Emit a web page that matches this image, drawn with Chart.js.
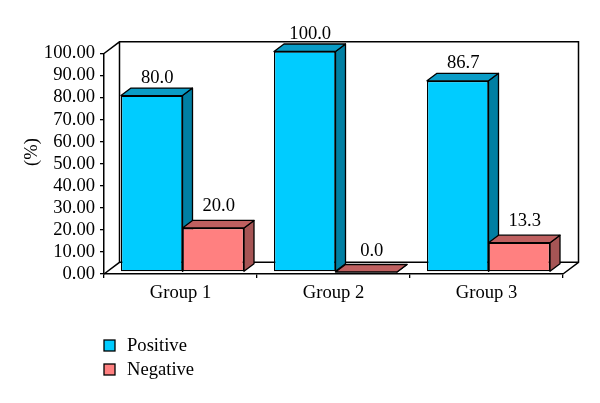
<!DOCTYPE html>
<html>
<head>
<meta charset="utf-8">
<style>body{margin:0;background:#fff}canvas{display:block}</style>
<script src="https://cdn.jsdelivr.net/npm/chart.js@4"></script>
</head>
<body>
<canvas id="c" width="600" height="403"></canvas>
<script>
const categories = ['Group 1', 'Group 2', 'Group 3'];
const positive = [80.0, 100.0, 86.7];
const negative = [20.0, 0.0, 13.3];

const FONT = '"Liberation Serif", serif';
const FONT_SIZE = 18.6;
const DX = 10, DY = 7.5;      // bar depth
const WALL_X = 15.5, WALL_Y = 11.7; // back wall offset
const SHIFT_X = 2, SHIFT_Y = -2;  // bars stand a bit inside the floor

function poly(ctx, pts, fill) {
    ctx.beginPath();
    pts.forEach((p, i) => i ? ctx.lineTo(p[0], p[1]) : ctx.moveTo(p[0], p[1]));
    ctx.closePath();
    ctx.fillStyle = fill;
    ctx.fill();
    ctx.stroke();
}

const box3d = {
    id: 'box3d',
    beforeDatasetsDraw(chart) {
        // back wall + floor
        const { ctx, chartArea: a } = chart;
        ctx.save();
        ctx.strokeStyle = '#000';
        ctx.lineWidth = 1.5;
        ctx.beginPath();
        ctx.moveTo(a.left, a.top);
        ctx.lineTo(a.left + WALL_X, a.top - WALL_Y);
        ctx.lineTo(a.right + WALL_X, a.top - WALL_Y);
        ctx.lineTo(a.right + WALL_X, a.bottom - WALL_Y);
        ctx.lineTo(a.right, a.bottom);
        ctx.moveTo(a.right + WALL_X, a.bottom - WALL_Y);
        ctx.lineTo(a.left + WALL_X, a.bottom - WALL_Y);
        ctx.lineTo(a.left, a.bottom);
        ctx.moveTo(a.left + WALL_X, a.top - WALL_Y);
        ctx.lineTo(a.left + WALL_X, a.bottom - WALL_Y);
        ctx.stroke();

        // side and top faces, positive first so negative covers it
        ctx.translate(SHIFT_X, SHIFT_Y);
        ctx.lineWidth = 1.3;
        ctx.lineJoin = 'round';
        chart.data.datasets.forEach((ds, i) => {
            chart.getDatasetMeta(i).data.forEach(bar => {
                const l = bar.x - bar.width / 2, r = bar.x + bar.width / 2;
                poly(ctx, [[r, bar.y], [r + DX, bar.y - DY], [r + DX, bar.base - DY], [r, bar.base]], ds.sideColor);
                poly(ctx, [[l, bar.y], [l + DX, bar.y - DY], [r + DX, bar.y - DY], [r, bar.y]], ds.topColor);
            });
        });
        ctx.restore();
    },
    beforeDatasetDraw(chart) {
        chart.ctx.save();
        chart.ctx.translate(SHIFT_X, SHIFT_Y);
    },
    afterDatasetDraw(chart) {
        chart.ctx.restore();
    },
    afterDatasetsDraw(chart) {
        const { ctx } = chart;
        ctx.save();
        ctx.fillStyle = '#000';
        ctx.font = FONT_SIZE + 'px ' + FONT;
        // value labels
        ctx.textAlign = 'center';
        ctx.textBaseline = 'alphabetic';
        chart.data.datasets.forEach((ds, i) => {
            chart.getDatasetMeta(i).data.forEach((bar, j) => {
                ctx.fillText(ds.data[j].toFixed(1), bar.x + SHIFT_X + 5.5, bar.y + SHIFT_Y - ds.labelGap);
            });
        });
        // y title
        ctx.save();
        ctx.translate(32, 152);
        ctx.rotate(-Math.PI / 2);
        ctx.textBaseline = 'middle';
        ctx.fillText('(%)', 0, 0);
        ctx.restore();
        // legend
        ctx.textAlign = 'left';
        ctx.strokeStyle = '#000';
        ctx.lineWidth = 1.3;
        const legendY = [340, 364];
        chart.data.datasets.forEach((ds, i) => {
            ctx.fillStyle = ds.backgroundColor;
            ctx.fillRect(104, legendY[i], 11, 11);
            ctx.strokeRect(104, legendY[i], 11, 11);
            ctx.fillStyle = '#000';
            ctx.fillText(ds.label, 127, legendY[i] + 11);
        });
        ctx.restore();
    }
};

new Chart(document.getElementById('c'), {
    type: 'bar',
    plugins: [box3d],
    data: {
        labels: categories,
        datasets: [
            { label: 'Positive', data: positive, clip: false, labelGap: 13,
              backgroundColor: '#00CCFF', topColor: '#0A9CC6', sideColor: '#007FA3',
              borderColor: '#000', borderWidth: 1.3, borderSkipped: false },
            { label: 'Negative', data: negative, clip: false, labelGap: 16.5,
              backgroundColor: '#FF8080', topColor: '#BF6060', sideColor: '#A65555',
              borderColor: '#000', borderWidth: 1.3, borderSkipped: false }
        ]
    },
    options: {
        responsive: false,
        animation: false,
        layout: { padding: { top: 53.5, right: 37, bottom: 0, left: 0 } },
        plugins: { legend: { display: false }, title: { display: false }, tooltip: { enabled: false } },
        datasets: { bar: { barPercentage: 1, categoryPercentage: 0.804 } },
        scales: {
            x: {
                afterFit: s => { s.height = 129; },
                grid: { drawOnChartArea: false, drawTicks: true, tickLength: 4, color: '#000', lineWidth: 1.3, offset: true },
                border: { color: '#000', width: 1.5 },
                ticks: { color: '#000', font: { family: FONT, size: FONT_SIZE }, padding: 4, maxRotation: 0 }
            },
            y: {
                min: 0,
                max: 100,
                afterFit: s => { s.width = 104; },
                grid: { drawOnChartArea: false, drawTicks: true, tickLength: 4, color: '#000', lineWidth: 1.3 },
                border: { color: '#000', width: 1.5 },
                ticks: { stepSize: 10, autoSkip: false, color: '#000', font: { family: FONT, size: FONT_SIZE }, padding: 5,
                         callback: v => v.toFixed(2) }
            }
        }
    }
});
</script>
</body>
</html>
